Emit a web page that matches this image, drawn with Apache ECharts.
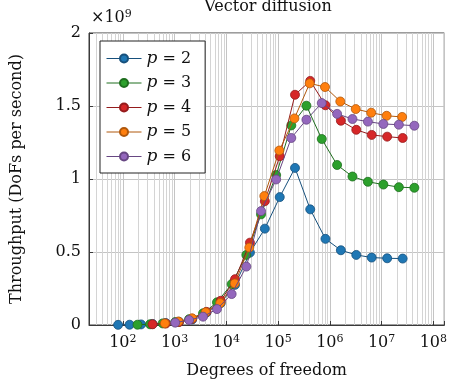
<!DOCTYPE html>
<html>
<head>
<meta charset="utf-8">
<script src="https://cdn.jsdelivr.net/npm/echarts@6/dist/echarts.min.js"></script>
<style>
html,body{margin:0;padding:0;background:#fff;}
#chart{width:450px;height:384px;}
</style>
</head>
<body>
<div id="chart"></div>
<script>
// Degrees of freedom per series
var dofP2 = [81,135,225,375,675,1215,2187,4131,7803,14739,28611,55539,107811,212355,418275,823875,1635075,3245085,6440067,12830211,25560963];
var dofP3 = [192,336,588,1029,1911,3549,6591,12675,24375,46875,91875,180075,352947,698691,1383123,2738019,5447811,10839573,21567171,43022595];
var dofP4 = [375,675,1215,2187,4131,7803,14739,28611,55539,107811,212355,418275,823875,1635075,3245085,6440067,12830211,25560963];
var dofP5 = [648,1188,2178,3993,7623,14553,27783,54243,105903,206763,408483,807003,1594323,3168963,6298803,12519843,24961923];
var dofP6 = [1029,1911,3549,6591,12675,24375,46875,91875,180075,352947,698691,1383123,2738019,5447811,10839573,21567171,43022595];
// Throughput in units of 1e9 DoFs per second
var thrP2 = [0.001,0.002,0.004,0.007,0.013,0.022,0.038,0.085,0.15,0.275,0.496,0.66,0.876,1.076,0.792,0.59,0.512,0.48,0.462,0.457,0.455];
var thrP3 = [0.002,0.005,0.011,0.02,0.04,0.08,0.155,0.28,0.48,0.758,1.027,1.367,1.502,1.274,1.096,1.017,0.981,0.962,0.944,0.94];
var thrP4 = [0.005,0.01,0.02,0.042,0.09,0.166,0.314,0.564,0.848,1.156,1.577,1.672,1.505,1.399,1.337,1.302,1.29,1.281];
var thrP5 = [0.011,0.024,0.046,0.087,0.15,0.285,0.53,0.883,1.195,1.415,1.655,1.63,1.531,1.479,1.454,1.433,1.425];
var thrP6 = [0.016,0.034,0.057,0.109,0.212,0.40,0.78,0.997,1.281,1.406,1.52,1.446,1.411,1.393,1.377,1.372,1.365];
var seriesNames = ['p = 2','p = 3','p = 4','p = 5','p = 6'];
var yTicks = [0, 0.5, 1, 1.5, 2];

var FONT = 'DejaVu Serif';
var fills = ['#1f77b4','#2ca02c','#d62728','#ff7f0e','#9467bd'];
var darks = ['#17507c','#1e6e1e','#951c1d','#b0580c','#674783'];

function zip(xs, ys){ var o=[]; for(var i=0;i<xs.length;i++){ o.push([xs[i], ys[i]]); } return o; }
var dofs = [dofP2,dofP3,dofP4,dofP5,dofP6];
var thrs = [thrP2,thrP3,thrP4,thrP5,thrP6];

// minor grid positions (2..9 per decade)
var minor = [];
for (var e=1; e<=8; e++){ for (var m=2; m<=9; m++){ var v=m*Math.pow(10,e); if (v>22.2 && v<1.63e8) minor.push({xAxis: v}); } }

var series = [{
  type:'line', name:'_grid', data:[], z:1, silent:true,
  markLine:{ silent:true, z:1, symbol:['none','none'], label:{show:false},
    lineStyle:{color:'#d4d4d4', width:1, type:'solid'}, animation:false, data: minor }
}];
for (var k=0;k<5;k++){
  series.push({
    type:'line', name: seriesNames[k], data: zip(dofs[k], thrs[k]),
    symbol:'circle', symbolSize:9, showSymbol:true,
    lineStyle:{color:darks[k], width:1, type:'solid'},
    itemStyle:{color:fills[k], borderColor:darks[k], borderWidth:0.8},
    emphasis:{disabled:true}, animation:false, z:3+k
  });
}

var chart = echarts.init(document.getElementById('chart'), null, {renderer:'canvas'});
chart.setOption({
  backgroundColor:'#ffffff',
  animation:false,
  title:{ text:'Vector diffusion', left:268, textAlign:'center', top:-1, padding:0,
    textStyle:{fontFamily:FONT, fontWeight:'normal', fontSize:16, color:'#111'} },
  grid:{ left:89, right:4, top:33, bottom:58, show:true, borderColor:'#3a3a3a', borderWidth:1, backgroundColor:'transparent' },
  legend:{
    data: seriesNames, orient:'vertical', left:100, top:41, z:20,
    backgroundColor:'#ffffff', borderColor:'#222', borderWidth:1,
    padding:[9,14,8,6], itemGap:7.5, itemWidth:35, itemHeight:10,
    lineStyle:{type:'solid', width:1},
    formatter:function(n){ return '{i|p} = ' + n.slice(4); },
    textStyle:{ fontFamily:FONT, fontSize:16, color:'#111',
      rich:{ i:{fontFamily:FONT, fontStyle:'italic', fontSize:17, color:'#111'} } },
    selectedMode:false
  },
  xAxis:{
    type:'log', logBase:10, min:22.2, max:1.63e8,
    name:'Degrees of freedom', nameLocation:'middle', nameGap:38,
    nameTextStyle:{fontFamily:FONT, fontSize:16, color:'#111'},
    axisLine:{show:true, lineStyle:{color:'#3a3a3a'}},
    axisTick:{show:true, inside:true, length:4, lineStyle:{color:'#3a3a3a'}},
    splitLine:{show:true, lineStyle:{color:'#c4c4c4', width:1}},
    axisLabel:{ margin:9, fontFamily:FONT, fontSize:16, color:'#111',
      showMinLabel:true, showMaxLabel:true,
      formatter:function(v){ var l=Math.log10(v); var r=Math.round(l); if (Math.abs(l-r)>1e-6) return ''; return '{b|10}{s|'+r+'}'; },
      rich:{ b:{fontFamily:FONT, fontSize:16, color:'#111', lineHeight:18},
             s:{fontFamily:FONT, fontSize:11, color:'#111', verticalAlign:'top', lineHeight:11} } }
  },
  yAxis:{
    type:'value', min:yTicks[0], max:yTicks[yTicks.length-1], interval:0.5,
    name:'Throughput (DoFs per second)', nameLocation:'middle', nameGap:64,
    nameTextStyle:{fontFamily:FONT, fontSize:16, color:'#111'},
    axisLine:{show:true, lineStyle:{color:'#3a3a3a'}},
    axisTick:{show:true, inside:true, length:4, lineStyle:{color:'#3a3a3a'}},
    splitLine:{show:true, lineStyle:{color:'#c4c4c4', width:1}},
    axisLabel:{ margin:8, fontFamily:FONT, fontSize:16, color:'#111',
      formatter:function(v){ return String(v); } }
  },
  graphic:[{ type:'text', left:91, top:9, silent:true,
    style:{ text:'{a|×10}{b|9}', rich:{ a:{fontFamily:FONT, fontSize:16, fill:'#111', lineHeight:18}, b:{fontFamily:FONT, fontSize:11, fill:'#111', verticalAlign:'top', lineHeight:11} } } }],
  series: series
});
</script>
</body>
</html>
